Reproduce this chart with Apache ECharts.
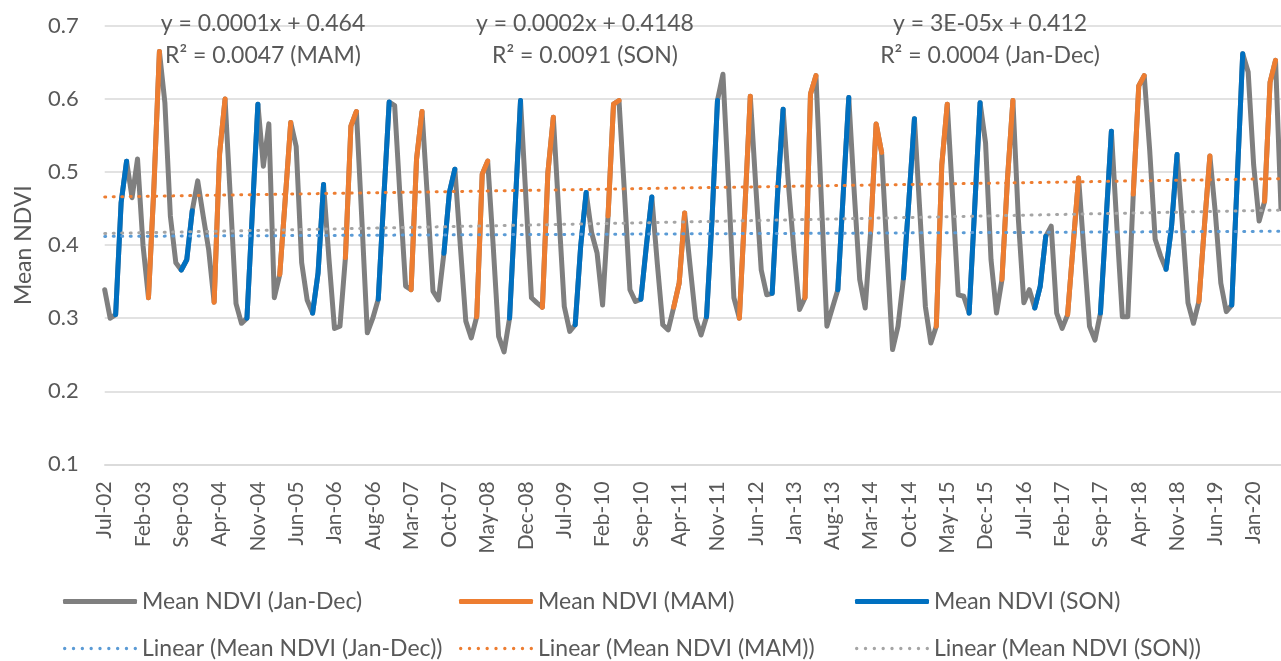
<!DOCTYPE html>
<html>
<head>
<meta charset="utf-8">
<script src="https://cdn.jsdelivr.net/npm/echarts@6/dist/echarts.min.js"></script>
<style>
html,body{margin:0;padding:0;background:#ffffff;}
#chart{width:1281px;height:661px;}
</style>
</head>
<body>
<div id="chart"></div>
<script>
// ---------- DATA ----------
const categories = [
  "Jul-02","Aug-02","Sep-02","Oct-02","Nov-02","Dec-02",
  "Jan-03","Feb-03","Mar-03","Apr-03","May-03","Jun-03","Jul-03","Aug-03","Sep-03","Oct-03","Nov-03","Dec-03",
  "Jan-04","Feb-04","Mar-04","Apr-04","May-04","Jun-04","Jul-04","Aug-04","Sep-04","Oct-04","Nov-04","Dec-04",
  "Jan-05","Feb-05","Mar-05","Apr-05","May-05","Jun-05","Jul-05","Aug-05","Sep-05","Oct-05","Nov-05","Dec-05",
  "Jan-06","Feb-06","Mar-06","Apr-06","May-06","Jun-06","Jul-06","Aug-06","Sep-06","Oct-06","Nov-06","Dec-06",
  "Jan-07","Feb-07","Mar-07","Apr-07","May-07","Jun-07","Jul-07","Aug-07","Sep-07","Oct-07","Nov-07","Dec-07",
  "Jan-08","Feb-08","Mar-08","Apr-08","May-08","Jun-08","Jul-08","Aug-08","Sep-08","Oct-08","Nov-08","Dec-08",
  "Jan-09","Feb-09","Mar-09","Apr-09","May-09","Jun-09","Jul-09","Aug-09","Sep-09","Oct-09","Nov-09","Dec-09",
  "Jan-10","Feb-10","Mar-10","Apr-10","May-10","Jun-10","Jul-10","Aug-10","Sep-10","Oct-10","Nov-10","Dec-10",
  "Jan-11","Feb-11","Mar-11","Apr-11","May-11","Jun-11","Jul-11","Aug-11","Sep-11","Oct-11","Nov-11","Dec-11",
  "Jan-12","Feb-12","Mar-12","Apr-12","May-12","Jun-12","Jul-12","Aug-12","Sep-12","Oct-12","Nov-12","Dec-12",
  "Jan-13","Feb-13","Mar-13","Apr-13","May-13","Jun-13","Jul-13","Aug-13","Sep-13","Oct-13","Nov-13","Dec-13",
  "Jan-14","Feb-14","Mar-14","Apr-14","May-14","Jun-14","Jul-14","Aug-14","Sep-14","Oct-14","Nov-14","Dec-14",
  "Jan-15","Feb-15","Mar-15","Apr-15","May-15","Jun-15","Jul-15","Aug-15","Sep-15","Oct-15","Nov-15","Dec-15",
  "Jan-16","Feb-16","Mar-16","Apr-16","May-16","Jun-16","Jul-16","Aug-16","Sep-16","Oct-16","Nov-16","Dec-16",
  "Jan-17","Feb-17","Mar-17","Apr-17","May-17","Jun-17","Jul-17","Aug-17","Sep-17","Oct-17","Nov-17","Dec-17",
  "Jan-18","Feb-18","Mar-18","Apr-18","May-18","Jun-18","Jul-18","Aug-18","Sep-18","Oct-18","Nov-18","Dec-18",
  "Jan-19","Feb-19","Mar-19","Apr-19","May-19","Jun-19","Jul-19","Aug-19","Sep-19","Oct-19","Nov-19","Dec-19",
  "Jan-20","Feb-20","Mar-20","Apr-20","May-20","Jun-20"
];

// Monthly mean NDVI (Jan-Dec series)
const ndviJanDec = [
  0.339,0.300,0.305,0.458,0.515,0.465,
  0.518,0.400,0.328,0.480,0.665,0.595,0.440,0.376,0.366,0.380,0.447,0.488,
  0.440,0.394,0.322,0.525,0.600,0.460,0.320,0.293,0.300,0.447,0.593,0.508,
  0.566,0.328,0.360,0.463,0.568,0.535,0.376,0.325,0.307,0.362,0.483,0.380,
  0.286,0.289,0.383,0.563,0.583,0.435,0.280,0.300,0.326,0.463,0.596,0.591,
  0.463,0.344,0.339,0.518,0.583,0.463,0.337,0.325,0.389,0.472,0.504,0.399,
  0.296,0.273,0.302,0.497,0.515,0.400,0.275,0.254,0.300,0.449,0.598,0.463,
  0.328,0.321,0.315,0.499,0.575,0.444,0.316,0.282,0.291,0.399,0.472,0.417,
  0.389,0.318,0.440,0.593,0.598,0.472,0.339,0.323,0.326,0.399,0.466,0.375,
  0.291,0.284,0.315,0.348,0.444,0.371,0.300,0.277,0.302,0.435,0.598,0.634,
  0.486,0.328,0.300,0.449,0.604,0.481,0.366,0.332,0.334,0.472,0.586,0.480,
  0.390,0.312,0.328,0.607,0.632,0.460,0.289,0.314,0.339,0.472,0.602,0.472,
  0.353,0.314,0.419,0.566,0.527,0.390,0.257,0.289,0.355,0.463,0.573,0.444,
  0.316,0.266,0.289,0.510,0.593,0.463,0.332,0.330,0.307,0.449,0.595,0.540,
  0.380,0.307,0.353,0.490,0.598,0.435,0.321,0.339,0.314,0.344,0.412,0.426,
  0.307,0.286,0.305,0.399,0.492,0.390,0.289,0.270,0.307,0.431,0.556,0.426,
  0.302,0.302,0.470,0.618,0.632,0.530,0.408,0.385,0.367,0.426,0.524,0.426,
  0.321,0.293,0.323,0.426,0.522,0.444,0.348,0.309,0.318,0.490,0.662,0.637,
  0.510,0.433,0.460,0.623,0.653,0.450
];

const mamMonths = ["Mar","Apr","May"];
const sonMonths = ["Sep","Oct","Nov"];

// Linear trend line end values [first month, last month]
const trendJanDec = [0.412, 0.419];
const trendMAM = [0.466, 0.491];
const trendSON = [0.416, 0.448];

const yMin = 0.1, yMax = 0.7, yStep = 0.1;

const seriesNames = [
  "Mean NDVI (Jan-Dec)","Mean NDVI (MAM)","Mean NDVI (SON)",
  "Linear (Mean NDVI (Jan-Dec))","Linear (Mean NDVI (MAM))","Linear (Mean NDVI (SON))"
];

const equationTexts = [
  ["y = 0.0001x + 0.464", "R\u00B2 = 0.0047 (MAM)"],
  ["y = 0.0002x + 0.4148", "R\u00B2 = 0.0091 (SON)"],
  ["y = 3E-05x + 0.412", "R\u00B2 = 0.0004 (Jan-Dec)"]
];

// ---------- BUILD ----------
const mamData = ndviJanDec.map((v, i) => mamMonths.includes(categories[i].slice(0,3)) ? v : null);
const sonData = ndviJanDec.map((v, i) => sonMonths.includes(categories[i].slice(0,3)) ? v : null);
function trendData(ends){
  return categories.map((c, i) => i === 0 ? ends[0] : (i === categories.length - 1 ? ends[1] : null));
}

const FONT = 'Lato, "Open Sans", sans-serif';
const TXT = '#595959';
const colors = {
  all: '#7F7F7F', mam: '#ED7D31', son: '#0070C0',
  tAll: '#5B9BD5', tMam: '#ED7D31', tSon: '#A5A5A5'
};

function solidLine(color){
  return {color: color, width: 5, cap: 'round', join: 'round'};
}
function dotLine(color){
  return {color: color, width: 3, type: [1, 7.5], cap: 'round'};
}
function lineSeries(name, data, ls, z, connect){
  return {
    name: name, type: 'line', data: data, symbol: 'none', showSymbol: false,
    connectNulls: !!connect, lineStyle: ls, itemStyle: {color: ls.color},
    z: z, silent: true, emphasis: {disabled: true}, animation: false
  };
}

// legend icon shapes
const LEG_W = 74;
const DOT_H = 3.4;
function dottedIconPath(){
  const r = DOT_H / 2, n = 9, step = (LEG_W - DOT_H) / (n - 1);
  let p = 'path://';
  for (let k = 0; k < n; k++) {
    const cx = r + k * step;
    p += 'M' + (cx - r) + ',' + r + 'a' + r + ',' + r + ' 0 1,0 ' + (2*r) + ',0a' + r + ',' + r + ' 0 1,0 ' + (-2*r) + ',0Z';
  }
  return p;
}
const DOT_ICON = dottedIconPath();

const legendPos = [
  {left: 63, top: 590}, {left: 459, top: 590}, {left: 855, top: 590},
  {left: 63, top: 637}, {left: 459, top: 637}, {left: 855, top: 637}
];

const eqPos = [263, 585, 990];

const graphics = [];
equationTexts.forEach((lines, k) => {
  lines.forEach((t, j) => {
    graphics.push({
      type: 'text', x: eqPos[k], y: j === 0 ? 24 : 56,
      style: {text: t, fill: TXT, font: '23px ' + FONT, textAlign: 'center', textVerticalAlign: 'middle'},
      z: 10, silent: true
    });
  });
});

const option = {
  animation: false,
  backgroundColor: '#ffffff',
  textStyle: {fontFamily: FONT},
  grid: {left: 104.7, right: -3.2, top: 26, bottom: 196.7, containLabel: false},
  xAxis: {
    type: 'category', data: categories, boundaryGap: false,
    axisLine: {show: true, lineStyle: {color: '#D9D9D9', width: 1.5}},
    axisTick: {show: false},
    axisLabel: {interval: 6, rotate: 90, margin: 17, fontSize: 21, color: TXT, fontFamily: FONT},
    splitLine: {show: false}
  },
  yAxis: {
    type: 'value', min: yMin, max: yMax, interval: yStep,
    name: 'Mean NDVI', nameLocation: 'middle', nameGap: 70, nameRotate: 90,
    nameTextStyle: {fontSize: 23, color: TXT, fontFamily: FONT},
    axisLine: {show: false}, axisTick: {show: false},
    axisLabel: {margin: 26, fontSize: 22, color: TXT, fontFamily: FONT, formatter: v => v.toFixed(1)},
    splitLine: {lineStyle: {color: '#D9D9D9', width: 1.5}}
  },
  legend: seriesNames.map((n, k) => ({
    data: [{name: n, icon: k < 3 ? 'roundRect' : DOT_ICON}],
    left: legendPos[k].left, top: legendPos[k].top, padding: 0,
    itemWidth: LEG_W, itemHeight: k < 3 ? 5 : DOT_H, selectedMode: false,
    textStyle: {fontSize: 23, color: TXT, fontFamily: FONT}
  })),
  graphic: graphics,
  series: [
    lineSeries(seriesNames[0], ndviJanDec, solidLine(colors.all), 2),
    lineSeries(seriesNames[1], mamData, solidLine(colors.mam), 3),
    lineSeries(seriesNames[2], sonData, solidLine(colors.son), 3),
    lineSeries(seriesNames[3], trendData(trendJanDec), dotLine(colors.tAll), 4, true),
    lineSeries(seriesNames[4], trendData(trendMAM), dotLine(colors.tMam), 4, true),
    lineSeries(seriesNames[5], trendData(trendSON), dotLine(colors.tSon), 4, true)
  ]
};

const chart = echarts.init(document.getElementById('chart'), null, {renderer: 'canvas'});
chart.setOption(option);
</script>
</body>
</html>
